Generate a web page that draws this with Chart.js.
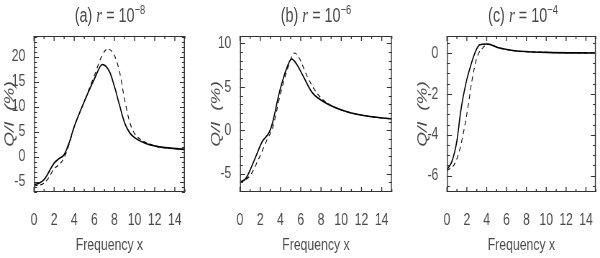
<!DOCTYPE html>
<html>
<head>
<meta charset="utf-8">
<script src="https://cdn.jsdelivr.net/npm/chart.js@4/dist/chart.umd.min.js"></script>
<style>
  html, body { margin:0; padding:0; background:#fff; }
  #wrap { position:relative; width:600px; height:258px; overflow:hidden; }
  canvas { position:absolute; top:0; }
  .ttl { position:absolute; top:2px; font-family:"Liberation Sans",sans-serif; font-size:20px; color:#4a4a4a; white-space:nowrap; transform:translateX(-50%) scaleX(0.72); }
  .ttl i { font-family:"Liberation Serif","DejaVu Serif",serif; font-size:21px; }
  .ttl sup { font-size:13px; }
</style>
</head>
<body>
<div id="wrap">
  <canvas id="ca"></canvas>
  <canvas id="cb"></canvas>
  <canvas id="cc"></canvas>
  <div class="ttl" style="left:110px">(a) <i>r</i> = 10<sup>−8</sup></div>
  <div class="ttl" style="left:316px">(b) <i>r</i> = 10<sup>−6</sup></div>
  <div class="ttl" style="left:523px">(c) <i>r</i> = 10<sup>−4</sup></div>
</div>
<script>
// ---- data ----
const xTicks = [0, 2, 4, 6, 8, 10, 12, 14];

const xA = [0, 0.5, 1, 1.5, 2, 2.5, 3, 3.5, 4, 5, 6, 6.8, 7.5, 8, 8.5, 9, 9.5, 10, 11, 12.3, 15];
const aSolid = [-5.6, -5.3, -4.6, -3.0, -1.3, -0.4, 0.4, 2.8, 6.0, 11.0, 15.5, 18.4, 17.0, 14.0, 10.3, 6.8, 4.8, 3.8, 2.7, 2.0, 1.45];
const xAd = [0, 1, 1.5, 2, 2.5, 3, 3.5, 4, 5, 6, 6.7, 7.3, 8, 8.5, 9, 9.5, 10, 10.7, 12.3, 15];
const aDashed = [-5.9, -5.3, -4.1, -2.4, -1.6, -0.2, 2.5, 5.9, 11.0, 16.2, 19.9, 21.5, 20.2, 17.0, 11.5, 7.0, 4.6, 3.3, 2.0, 1.45];
const aYTicks = [-5, 0, 5, 10, 15, 20];

const xB = [0, 0.6, 1.5, 2.2, 2.9, 3.2, 3.9, 4.6, 5.1, 5.6, 6.3, 7.1, 8.1, 10.1, 12.2, 15];
const bSolid = [-6.0, -5.5, -3.2, -1.3, -0.2, 0.8, 4.4, 7.1, 8.2, 7.6, 6.1, 4.4, 3.4, 2.3, 1.7, 1.3];
const xBd = [0, 1, 2, 2.7, 3.2, 4, 4.7, 5.4, 5.9, 6.6, 7.3, 8.1, 10.1, 12.2, 15];
const bDashed = [-6.0, -5.2, -2.9, -1.0, 0.2, 4.2, 7.1, 8.9, 8.2, 6.3, 4.8, 3.6, 2.3, 1.7, 1.3];
const bYTicks = [-5, 0, 5, 10];

const xC = [0, 0.5, 1, 1.4, 1.9, 2.4, 2.9, 3.3, 4, 5.3, 6.8, 10, 15];
const cSolid = [-5.7, -5.3, -4.3, -2.8, -1.5, -0.6, 0.1, 0.4, 0.44, 0.24, 0.11, 0.03, 0.0];
const xCd = [0, 0.8, 1.4, 2.1, 2.5, 3, 3.7, 4.1, 5.3, 6.8, 10, 15];
const cDashed = [-5.75, -5.4, -4.5, -2.7, -1.4, -0.25, 0.3, 0.44, 0.24, 0.11, 0.03, 0.0];
const cYTicks = [-6, -4, -2, 0];

// ---- helpers ----
const SQ = 0.72;                // horizontal squeeze (narrow IDL-style lettering)
const H = 258;
const FONT = '"Liberation Sans", Arial, sans-serif';
const INK = '#333';
const TXT = '#4a4a4a';

function pts(xs, ys) { return xs.map((x, i) => ({ x: x, y: ys[i] })); }

const boxPlugin = {
  id: 'idlbox',
  afterDatasetsDraw(chart, args, opts) {
    const { ctx, chartArea: ca, scales } = chart;
    const xs = scales.x, ys = scales.y;
    const vw = 1 / SQ;
    ctx.save();
    ctx.strokeStyle = INK;
    ctx.lineWidth = 1;
    ctx.beginPath();
    ctx.moveTo(ca.left, ca.top + 0.5); ctx.lineTo(ca.right, ca.top + 0.5);
    ctx.moveTo(ca.left, ca.bottom - 0.5); ctx.lineTo(ca.right, ca.bottom - 0.5);
    const start = Math.ceil(ys.min / opts.yMinor - 1e-9) * opts.yMinor;
    for (let v = start; v <= ys.max + 1e-9; v += opts.yMinor) {
      const p = Math.round(ys.getPixelForValue(v)) + 0.5;
      const major = Math.abs(v / opts.yMajor - Math.round(v / opts.yMajor)) < 1e-6;
      const L = (major ? 5 : 3) / SQ;
      ctx.moveTo(ca.left, p); ctx.lineTo(ca.left + L, p);
      ctx.moveTo(ca.right, p); ctx.lineTo(ca.right - L, p);
    }
    ctx.stroke();
    ctx.lineWidth = vw;
    ctx.beginPath();
    ctx.moveTo(ca.left + vw / 2, ca.top); ctx.lineTo(ca.left + vw / 2, ca.bottom);
    ctx.moveTo(ca.right - vw / 2, ca.top); ctx.lineTo(ca.right - vw / 2, ca.bottom);
    for (let v = xs.min; v <= xs.max + 1e-9; v += opts.xMinor) {
      const p = xs.getPixelForValue(v);
      const major = Math.abs(v / 2 - Math.round(v / 2)) < 1e-6;
      const L = major ? 5 : 3;
      ctx.moveTo(p, ca.bottom); ctx.lineTo(p, ca.bottom - L);
      ctx.moveTo(p, ca.top); ctx.lineTo(p, ca.top + L);
    }
    ctx.stroke();
    ctx.restore();
  }
};

function makeChart(id, cssLeft, plotL, plotR, yTitleX, solid, dashed, yMin, yMax, yTicks, yMajor, yMinor) {
  const cv = document.getElementById(id);
  const cssW = 200;
  const W = Math.round(cssW / SQ);
  cv.width = W; cv.height = H;
  cv.style.left = cssLeft + 'px';
  cv.style.width = (W * SQ) + 'px';
  cv.style.height = H + 'px';
  const leftIn = (plotL - cssLeft) / SQ;
  const rightIn = (plotR - cssLeft) / SQ;
  const titleSize = 19;
  const titlePad = (yTitleX - cssLeft) / SQ - titleSize * 1.2 / 2;
  return new Chart(cv, {
    type: 'line',
    data: {
      datasets: [
        { data: solid, borderColor: '#000', borderWidth: 1.6, pointRadius: 0, fill: false, cubicInterpolationMode: 'monotone' },
        { data: dashed, borderColor: '#000', borderWidth: 1.1, borderDash: [5, 4], pointRadius: 0, fill: false, cubicInterpolationMode: 'monotone' }
      ]
    },
    options: {
      responsive: false,
      animation: false,
      devicePixelRatio: 1,
      layout: { padding: { top: 36, right: W - rightIn, left: 0, bottom: 0 } },
      plugins: { legend: { display: false }, tooltip: { enabled: false }, title: { display: false },
                 idlbox: { xMinor: 1, yMajor: yMajor, yMinor: yMinor } },
      scales: {
        x: {
          type: 'linear', min: 0, max: 15,
          grid: { display: false }, border: { display: false },
          afterBuildTicks: s => { s.ticks = xTicks.map(v => ({ value: v })); },
          afterFit: s => { s.height = H - 192; },
          ticks: { color: TXT, font: { family: FONT, size: 17 }, padding: 10, maxRotation: 0, autoSkip: false },
          title: { display: true, text: 'Frequency x', color: TXT, font: { family: FONT, size: 17 }, padding: { top: 0, bottom: 2 } }
        },
        y: {
          type: 'linear', min: yMin, max: yMax,
          grid: { display: false }, border: { display: false },
          afterBuildTicks: s => { s.ticks = yTicks.map(v => ({ value: v })); },
          afterFit: s => { s.width = leftIn; },
          ticks: { color: TXT, font: { family: FONT, size: 17 }, padding: 4, autoSkip: false },
          title: { display: true, text: 'Q/I  (%)', color: TXT, font: { family: FONT, size: titleSize, style: 'italic' }, padding: { top: titlePad, bottom: 0 } }
        }
      }
    },
    plugins: [boxPlugin]
  });
}

makeChart('ca', 0, 34, 185, 10, pts(xA, aSolid), pts(xAd, aDashed), -7.07, 24.1, aYTicks, 5, 1);
makeChart('cb', 200, 240, 392, 216, pts(xB, bSolid), pts(xBd, bDashed), -7.1, 10.85, bYTicks, 5, 1);
makeChart('cc', 400, 447, 599, 423, pts(xC, cSolid), pts(xCd, cDashed), -6.8, 0.83, cYTicks, 2, 0.5);
</script>
</body>
</html>
